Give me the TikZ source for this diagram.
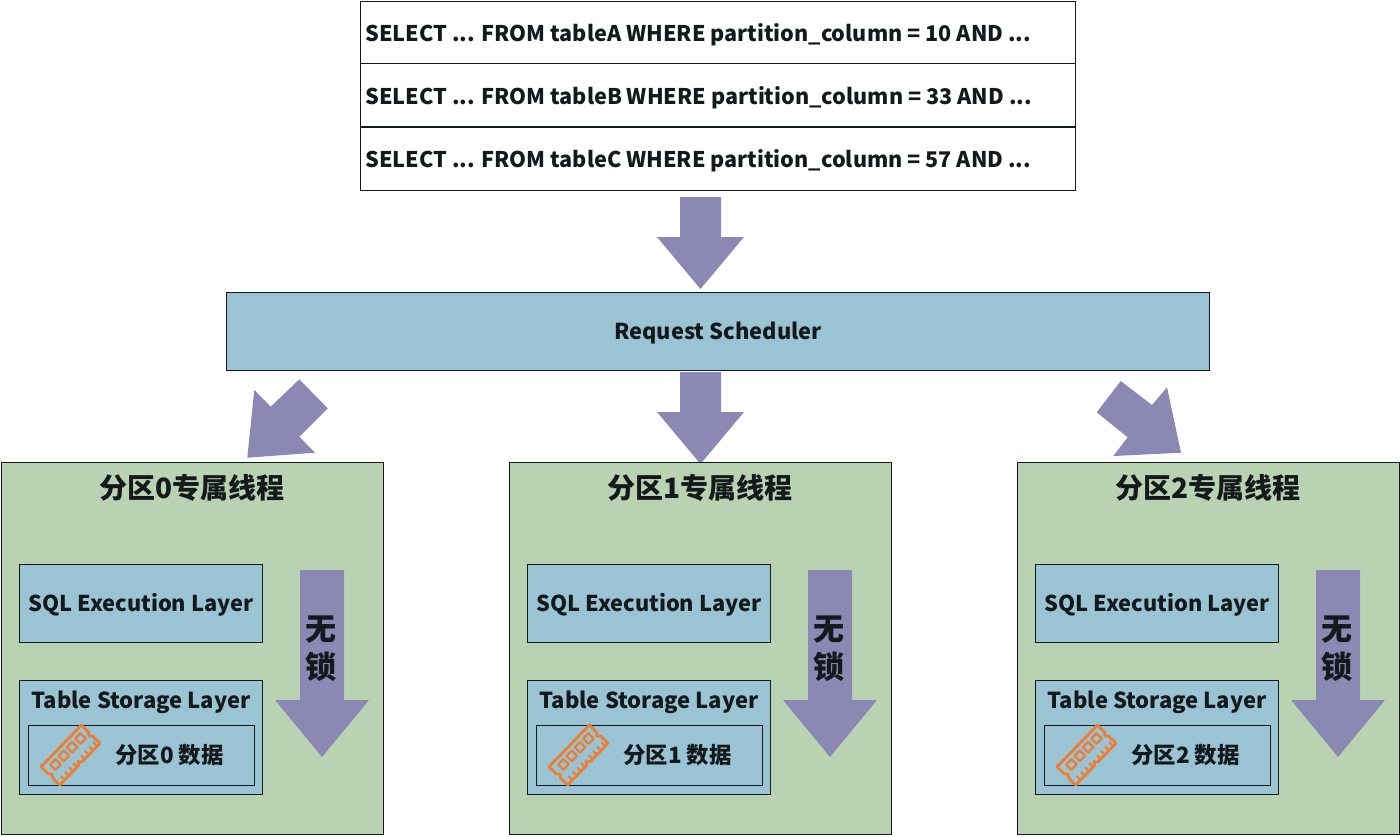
\documentclass[tikz,border=0pt]{standalone}
\usepackage{fontspec}
\setmainfont{Noto Sans CJK SC}
\definecolor{layerblue}{HTML}{9AC3D4}
\definecolor{panelgreen}{HTML}{B9D3B2}
\definecolor{flowpurple}{HTML}{8B89B4}
\definecolor{ramorange}{HTML}{ED7D31}
\definecolor{ink}{HTML}{141A1C}
\newcommand{\txt}[1]{\fontsize{#1}{#1}\selectfont\bfseries}
\tikzset{
  box/.style={draw=ink,line width=1pt,inner sep=0pt,text=ink,anchor=north west},
  sqlrow/.style={box,fill=white,minimum width=715pt,minimum height=63pt},
  rowtext/.style={anchor=west,inner sep=0pt,text=ink,font=\txt{21.6}},
  layer/.style={box,fill=layerblue},
  panel/.style={box,fill=panelgreen,minimum width=382pt,minimum height=372pt},
  blockarrow/.style={fill=flowpurple,draw=none},
  ramline/.style={draw=ramorange,line width=2.8pt,line join=round,line cap=round},
  plain/.style={inner sep=0pt,text=ink}
}
\begin{document}
\begin{tikzpicture}[x=1pt,y=-1pt]
\useasboundingbox (0,0) rectangle (1400,836);
\fill[white] (0,0) rectangle (1400,836);

% SQL request list
\node[sqlrow] (rowA) at (360,0.5) {};
\node[sqlrow] (rowB) at (360,63.2) {};
\node[sqlrow] (rowC) at (360,126.6) {};
\node[rowtext] (textA) at (365,35) {SELECT ... FROM tableA WHERE partition\_column = 10 AND ...};
\node[rowtext] (textB) at (365,98) {SELECT ... FROM tableB WHERE partition\_column = 33 AND ...};
\node[rowtext] (textC) at (365,161) {SELECT ... FROM tableC WHERE partition\_column = 57 AND ...};

% Scheduler bar
\node[layer,minimum width=983pt,minimum height=78pt] (sched) at (226,291.5) {};
\node[plain,font=\txt{21.9}] (schedtext) at (718,333) {Request Scheduler};

% Block arrows between the tiers
\fill[blockarrow] (680,197) -- (721,197) -- (721,237) -- (744,237) -- (700.5,289) -- (657,237) -- (680,237) -- cycle;
\fill[blockarrow] (680,372) -- (721,372) -- (721,412) -- (744,412) -- (700.5,464) -- (657,412) -- (680,412) -- cycle;
\fill[blockarrow] (299.3,379.3) -- (327.7,408.3) -- (299.3,436.7) -- (315,452.7) -- (247.3,457.7) -- (254.3,390) -- (270.7,406.7) -- cycle;
\fill[blockarrow] (1120.7,381) -- (1096.7,412.3) -- (1127.7,437.3) -- (1113.3,456) -- (1181,452.7) -- (1167,387.3) -- (1152,405) -- cycle;

% One panel per partition
\foreach \p/\dx in {0/0,1/508,2/1016} {
  \begin{scope}[shift={(\dx,0)}]
    \node[panel] (panel\p) at (1,462) {};
    \node[plain,font=\txt{28}] (title\p) at (192,487.5) {分区\p 专属线程};
    \node[layer,minimum width=243pt,minimum height=78pt] (sql\p) at (18.8,564) {};
    \node[plain,font=\txt{21.8}] (sqltext\p) at (141,605) {SQL Execution Layer};
    \node[box,fill=layerblue,minimum width=243pt,minimum height=114pt] (store\p) at (18.8,680) {};
    \node[plain,font=\txt{22}] (storetext\p) at (141,702) {Table Storage Layer};
    \node[box,fill=layerblue,minimum width=226pt,minimum height=60pt] (data\p) at (27.8,725) {};
    \node[plain,font=\txt{22.4}] (datatext\p) at (169.5,755.5) {分区\p{} 数据};

    % Lock-free arrow
    \fill[blockarrow] (300,570) -- (344,570) -- (344,700) -- (369,700) -- (322,757) -- (275,700) -- (300,700) -- cycle;
    \node[plain,font=\txt{31}] (wu\p) at (321,630) {无};
    \node[plain,font=\txt{31}] (suo\p) at (321,667) {锁};

    % Memory module icon
    \begin{scope}[shift={(70.5,755)},rotate=46]
      \draw[ramline] (-29,-13) -- (29,-13) -- (29,-3) -- (26.5,0) -- (29,3) -- (29,13)
        -- (3,13) -- (0.5,10) -- (-2,13) -- (-29,13) -- (-29,3) -- (-26.5,0) -- (-29,-3) -- cycle;
      \foreach \cx in {-21,-9,3,15}
        \draw[ramline,line width=2.2pt] (\cx,-8) rectangle ++(7.5,7.5);
      \foreach \tx in {-22,-16,-10,-4,7,13,19,25}
        \draw[ramline,line width=2.2pt] (\tx,13) -- (\tx,8);
    \end{scope}
  \end{scope}
}
\end{tikzpicture}
\end{document}
